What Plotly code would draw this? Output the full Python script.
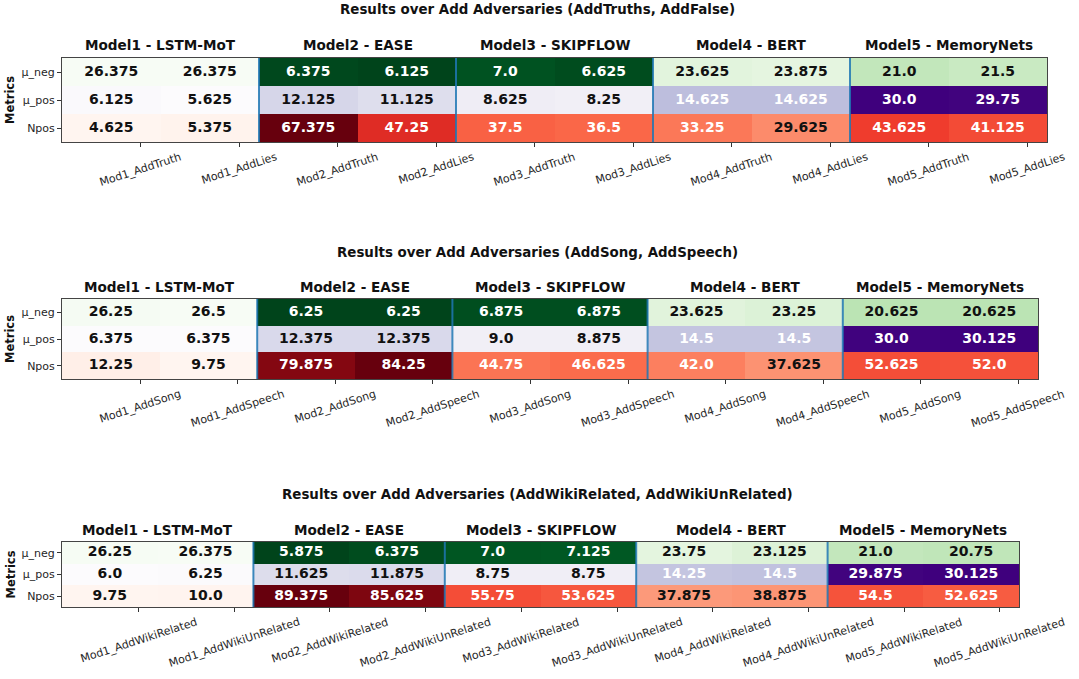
import plotly.graph_objects as go
from plotly.colors import sequential

W, H = 1079, 679

# ---------------- data ----------------
metrics = ["μ_neg", "μ_pos", "Npos"]
model_titles = ["Model1 - LSTM-MoT", "Model2 - EASE", "Model3 - SKIPFLOW",
                "Model4 - BERT", "Model5 - MemoryNets"]
panel_titles = [
    "Results over Add Adversaries (AddTruths, AddFalse)",
    "Results over Add Adversaries (AddSong, AddSpeech)",
    "Results over Add Adversaries (AddWikiRelated, AddWikiUnRelated)",
]

labels_1 = ["Mod1_AddTruth", "Mod1_AddLies", "Mod2_AddTruth", "Mod2_AddLies",
            "Mod3_AddTruth", "Mod3_AddLies", "Mod4_AddTruth", "Mod4_AddLies",
            "Mod5_AddTruth", "Mod5_AddLies"]
mu_neg_1 = [26.375, 26.375, 6.375, 6.125, 7.0, 6.625, 23.625, 23.875, 21.0, 21.5]
mu_pos_1 = [6.125, 5.625, 12.125, 11.125, 8.625, 8.25, 14.625, 14.625, 30.0, 29.75]
npos_1 = [4.625, 5.375, 67.375, 47.25, 37.5, 36.5, 33.25, 29.625, 43.625, 41.125]

labels_2 = ["Mod1_AddSong", "Mod1_AddSpeech", "Mod2_AddSong", "Mod2_AddSpeech",
            "Mod3_AddSong", "Mod3_AddSpeech", "Mod4_AddSong", "Mod4_AddSpeech",
            "Mod5_AddSong", "Mod5_AddSpeech"]
mu_neg_2 = [26.25, 26.5, 6.25, 6.25, 6.875, 6.875, 23.625, 23.25, 20.625, 20.625]
mu_pos_2 = [6.375, 6.375, 12.375, 12.375, 9.0, 8.875, 14.5, 14.5, 30.0, 30.125]
npos_2 = [12.25, 9.75, 79.875, 84.25, 44.75, 46.625, 42.0, 37.625, 52.625, 52.0]

labels_3 = ["Mod1_AddWikiRelated", "Mod1_AddWikiUnRelated", "Mod2_AddWikiRelated",
            "Mod2_AddWikiUnRelated", "Mod3_AddWikiRelated", "Mod3_AddWikiUnRelated",
            "Mod4_AddWikiRelated", "Mod4_AddWikiUnRelated", "Mod5_AddWikiRelated",
            "Mod5_AddWikiUnRelated"]
mu_neg_3 = [26.25, 26.375, 5.875, 6.375, 7.0, 7.125, 23.75, 23.125, 21.0, 20.75]
mu_pos_3 = [6.0, 6.25, 11.625, 11.875, 8.75, 8.75, 14.25, 14.5, 29.875, 30.125]
npos_3 = [9.75, 10.0, 89.375, 85.625, 55.75, 53.625, 37.875, 38.875, 54.5, 52.625]

panels = [
    (panel_titles[0], labels_1, [mu_neg_1, mu_pos_1, npos_1]),
    (panel_titles[1], labels_2, [mu_neg_2, mu_pos_2, npos_2]),
    (panel_titles[2], labels_3, [mu_neg_3, mu_pos_3, npos_3]),
]

# ---------------- style ----------------
FONT = "DejaVu Sans"
box_px = [(62, 1047, 58, 142), (62, 1038, 299, 379), (62, 1019, 542, 607)]
model_title_y = [45, 287, 530]
panel_title_y = [10, 252, 494]
cmaps = [sequential.Greens[::-1], sequential.Purples, sequential.Reds]
invert = [True, False, False]
white_above = [0.5, 0.3, 0.41]
group = 2          # columns per model
tick_offset = 0.3  # tick position offset inside a column

fig = go.Figure()
annotations = []
shapes = []
layout_axes = {}

for p, (ptitle, labels, values) in enumerate(panels):
    s = "" if p == 0 else str(p + 1)
    x0, x1, y0, y1 = box_px[p]
    n = len(labels)
    xs = list(range(n))
    ys = list(range(len(metrics)))

    tx, ty, tt, tc = [], [], [], []
    for m, row in enumerate(values):
        z = [[None] * n for _ in ys]
        z[m] = row
        lo, hi = min(row), max(row)
        fig.add_trace(go.Heatmap(
            z=z, x=xs, y=ys, colorscale=cmaps[m], zmin=lo, zmax=hi,
            showscale=False, hoverongaps=False,
            xaxis="x" + s, yaxis="y" + s))
        for j, v in enumerate(row):
            norm = (v - lo) / (hi - lo) if hi > lo else 0.0
            dark = 1 - norm if invert[m] else norm
            tx.append(j)
            ty.append(m)
            tt.append(str(v))
            tc.append("white" if dark > white_above[m] else "#111111")
    fig.add_trace(go.Scatter(
        x=tx, y=ty, text=tt, mode="text",
        textfont=dict(family=FONT, size=14, color=tc, weight="bold"),
        hoverinfo="skip", showlegend=False,
        xaxis="x" + s, yaxis="y" + s))

    layout_axes["xaxis" + s] = dict(
        domain=[x0 / W, x1 / W], anchor="y" + s, range=[-0.5, n - 0.5],
        tickvals=[i + tick_offset for i in xs], ticktext=[""] * n,
        ticks="outside", ticklen=4, tickcolor="#333333", tickwidth=1,
        showticklabels=False, showgrid=False, zeroline=False,
        showline=True, linecolor="#444444", linewidth=1, mirror=True,
        fixedrange=True)
    layout_axes["yaxis" + s] = dict(
        domain=[1 - y1 / H, 1 - y0 / H], anchor="x" + s,
        range=[len(metrics) - 0.5, -0.5],
        tickvals=ys, ticktext=metrics, ticks="outside", ticklen=4,
        tickcolor="#333333", tickwidth=1,
        tickfont=dict(family=FONT, size=11, color="#262626"),
        showgrid=False, zeroline=False,
        showline=True, linecolor="#444444", linewidth=1, mirror=True,
        fixedrange=True)

    # x tick labels (rotated, centred on tick)
    for i, lab in enumerate(labels):
        annotations.append(dict(
            x=i + tick_offset, xref="x" + s, y=1 - (y1 + 6) / H, yref="paper",
            text=lab, showarrow=False, textangle=-18,
            xanchor="center", yanchor="top",
            font=dict(family=FONT, size=11, color="#262626")))

    # model titles
    for k, mt in enumerate(model_titles):
        annotations.append(dict(
            x=k * group + (group - 1) / 2, xref="x" + s,
            y=1 - model_title_y[p] / H, yref="paper",
            text="<b>" + mt + "</b>", showarrow=False,
            xanchor="center", yanchor="middle",
            font=dict(family=FONT, size=13.6, color="#111111")))

    # panel title
    annotations.append(dict(
        x=537 / W, xref="paper", y=1 - panel_title_y[p] / H, yref="paper",
        text="<b>" + ptitle + "</b>", showarrow=False,
        xanchor="center", yanchor="middle",
        font=dict(family=FONT, size=13.4, color="#111111")))

    # y axis title
    annotations.append(dict(
        x=10 / W, xref="paper", y=1 - (y0 + y1) / 2 / H, yref="paper",
        text="<b>Metrics</b>", showarrow=False, textangle=-90,
        xanchor="center", yanchor="middle",
        font=dict(family=FONT, size=11.5, color="#111111")))

    # model separators
    for k in range(1, len(model_titles)):
        shapes.append(dict(
            type="line", xref="x" + s, yref="y" + s,
            x0=k * group - 0.5, x1=k * group - 0.5, y0=-0.5, y1=len(metrics) - 0.5,
            line=dict(color="rgba(31,119,180,0.85)", width=2), layer="above"))

fig.update_layout(
    width=W, height=H, margin=dict(l=0, r=0, t=0, b=0),
    paper_bgcolor="white", plot_bgcolor="white",
    showlegend=False, annotations=annotations, shapes=shapes,
    font=dict(family=FONT),
    **layout_axes)

fig.write_html("out.html", config={"displayModeBar": False},
               post_script="document.body.style.margin='0';")
